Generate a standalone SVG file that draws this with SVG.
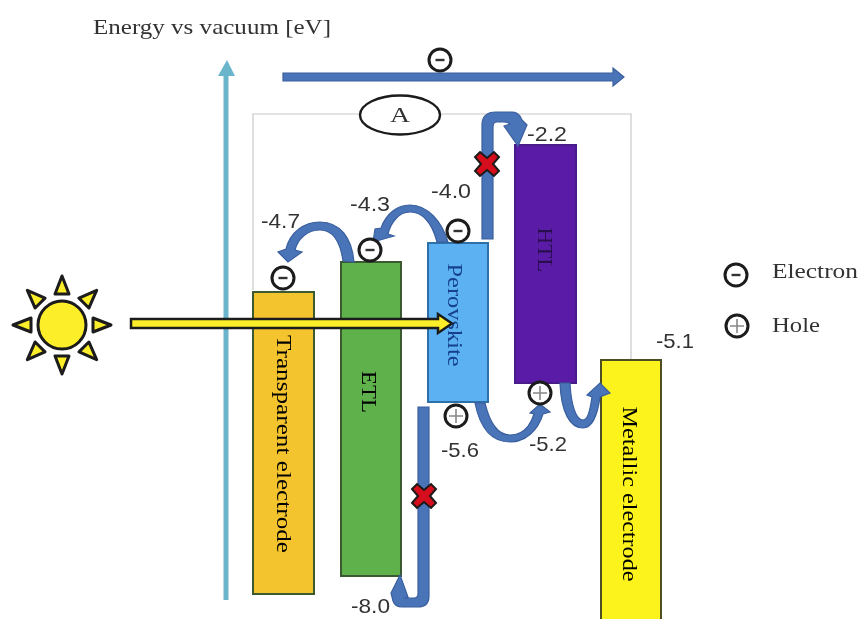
<svg xmlns="http://www.w3.org/2000/svg" width="859" height="619" viewBox="0 0 859 619">
<style>
.t{font-family:"Liberation Serif",serif;fill:#333;font-size:22px}
.n{font-family:"Liberation Sans",sans-serif;font-size:21px;fill:#333}
.v{font-family:"Liberation Serif",serif;font-size:22px;text-anchor:middle;dominant-baseline:central}
.b{stroke:#3a5a30;stroke-width:2}
.f{fill:#4a74b8;stroke:#3a5f9e;stroke-width:1.2}
.q{fill:#fff;stroke:#1a1a1a;stroke-width:3}
.s{stroke:#333;stroke-width:2.4;fill:none}
.p{stroke:#888;stroke-width:1.6;fill:none}
.r{fill:#fdee2a;stroke:#1a1a1a;stroke-width:3;stroke-linejoin:round}
.x{fill:#d5101a;stroke:#1a1a1a;stroke-width:2}
</style>
<defs>
<filter id="soft" x="-2%" y="-2%" width="104%" height="104%"><feGaussianBlur stdDeviation="0.6"/></filter>
<g id="minus"><circle class="q" r="11"/><path class="s" d="M-4.5 0H4.5"/></g>
<g id="plus"><circle class="q" r="11"/><path class="p" d="M-7 0H7M0 -7V7"/></g>
<path id="cross" class="x" d="M-7 -12L0 -6L7 -12L12 -7L6 0L12 7L7 12L0 6L-7 12L-12 7L-6 0L-12 -7Z"/>
<polygon id="ray" class="r" points="0,-49 7,-31 -7,-31"/>
</defs>
<rect width="859" height="619" fill="#fff"/>
<g filter="url(#soft)">
<text class="t" x="93" y="34" textLength="238" lengthAdjust="spacingAndGlyphs">Energy vs vacuum [eV]</text>
<path d="M253 290V114H631V360" fill="none" stroke="#c8c8c8" stroke-width="1.2"/>
<g id="transparent-electrode"><rect class="b" x="253" y="292" width="61" height="302" fill="#f3c42e"/><text class="v" transform="translate(284 444) rotate(90)" textLength="218" lengthAdjust="spacingAndGlyphs">Transparent electrode</text></g>
<g id="etl"><rect class="b" x="341" y="262" width="60" height="314" fill="#5fb14b"/><text class="v" transform="translate(369 392) rotate(90)" textLength="42" lengthAdjust="spacingAndGlyphs">ETL</text></g>
<g id="perovskite"><rect class="b" x="428" y="243" width="60" height="159" fill="#5cb1f2" style="stroke:#2f6fa8"/><text class="v" transform="translate(455 315) rotate(90)" style="fill:#163f8c" textLength="103" lengthAdjust="spacingAndGlyphs">Perovskite</text></g>
<g id="htl"><rect x="515" y="145" width="61" height="238" fill="#5a1fa6" stroke="#4a1a8c" stroke-width="2"/><text class="v" transform="translate(545 250) rotate(90)" style="fill:#2a1050" textLength="45" lengthAdjust="spacingAndGlyphs">HTL</text></g>
<g id="metallic-electrode"><rect x="601" y="360" width="60" height="262" fill="#fcf31d" stroke="#4d5020" stroke-width="2"/><text class="v" transform="translate(630 494) rotate(90)" textLength="175" lengthAdjust="spacingAndGlyphs">Metallic electrode</text></g>
<g id="connectors">
<path d="M226 600V72" stroke="#6ab4cc" stroke-width="5" fill="none"/>
<polygon points="218,76 227,60 235,76" fill="#6ab4cc"/>
<polygon class="f" points="283,73 613,73 613,68 624,77 613,86 613,81 283,81"/>
<path class="f" d="M482 239V125Q482 112 496 112H512Q519 112 522 120L527 125L518 146L504 126L510 124Q508 122 504 122H497Q493 122 493 127V239Z"/>
<path class="f" d="M418 407H429V596Q429 607 418 607H402Q395 607 393 601L391 593L400 575L408 597L404 598H414Q418 598 418 594Z"/>
<path class="f" d="M343 261C340 240 332 230 320 230C308 230 298 238 295 250L302 252L288 262L278 252L286 249C290 232 304 222 320 222C340 222 352 238 354 262Z"/>
<path class="f" d="M437 242C432 222 422 212 410 212C399 212 391 222 388 234L394 236L373 242L375 229L381 228C386 214 397 205 410 205C428 205 442 222 448 242Z"/>
<path class="f" d="M475 403C480 428 492 442 510 442C526 442 538 430 543 414L550 412L540 404L530 413L534 414C530 427 522 435 510 435C498 435 490 424 485 403Z"/>
<path class="f" d="M560 383C561 412 570 428 583 428C593 428 598 412 600 397L610 393L600 383L587 395L592 397C590 410 588 420 583 420C576 420 571 405 570 383Z"/>
<polygon points="131,319 438,319 438,314 452,323.500 438,333 438,328 131,328" fill="#fdee2a" stroke="#1a1a1a" stroke-width="2.500"/>
</g>
<g id="sun">
<circle cx="62" cy="325" r="24" class="r"/>
<g transform="translate(62 325)"><use href="#ray"/><use href="#ray" transform="rotate(45)"/><use href="#ray" transform="rotate(90)"/><use href="#ray" transform="rotate(135)"/><use href="#ray" transform="rotate(180)"/><use href="#ray" transform="rotate(225)"/><use href="#ray" transform="rotate(270)"/><use href="#ray" transform="rotate(315)"/></g>
</g>
<g id="label-a"><ellipse cx="400" cy="115" rx="40" ry="19.500" fill="#fff" stroke="#1a1a1a" stroke-width="2.400"/><text x="400" y="122" text-anchor="middle" class="t" textLength="20" lengthAdjust="spacingAndGlyphs">A</text></g>
<use href="#minus" x="440" y="60"/>
<use href="#minus" x="283" y="278"/>
<use href="#minus" x="370" y="250"/>
<use href="#minus" x="458" y="231"/>
<use href="#plus" x="456" y="416"/>
<use href="#plus" x="540" y="393"/>
<use href="#cross" x="487" y="164"/>
<use href="#cross" x="424" y="496"/>
<text class="n" x="527" y="141" textLength="40" lengthAdjust="spacingAndGlyphs">-2.2</text>
<text class="n" x="431" y="198" textLength="40" lengthAdjust="spacingAndGlyphs">-4.0</text>
<text class="n" x="350" y="211" textLength="40" lengthAdjust="spacingAndGlyphs">-4.3</text>
<text class="n" x="261" y="228" textLength="39" lengthAdjust="spacingAndGlyphs">-4.7</text>
<text class="n" x="441" y="457" textLength="38" lengthAdjust="spacingAndGlyphs">-5.6</text>
<text class="n" x="529" y="451" textLength="38" lengthAdjust="spacingAndGlyphs">-5.2</text>
<text class="n" x="656" y="348" textLength="38" lengthAdjust="spacingAndGlyphs">-5.1</text>
<text class="n" x="351" y="613" textLength="39" lengthAdjust="spacingAndGlyphs">-8.0</text>
<g id="legend">
<use href="#minus" x="736" y="275"/>
<use href="#plus" x="737" y="326"/>
<text class="t" x="772" y="278" textLength="86" lengthAdjust="spacingAndGlyphs">Electron</text>
<text class="t" x="772" y="332" textLength="48" lengthAdjust="spacingAndGlyphs">Hole</text>
</g>
</g>
</svg>
